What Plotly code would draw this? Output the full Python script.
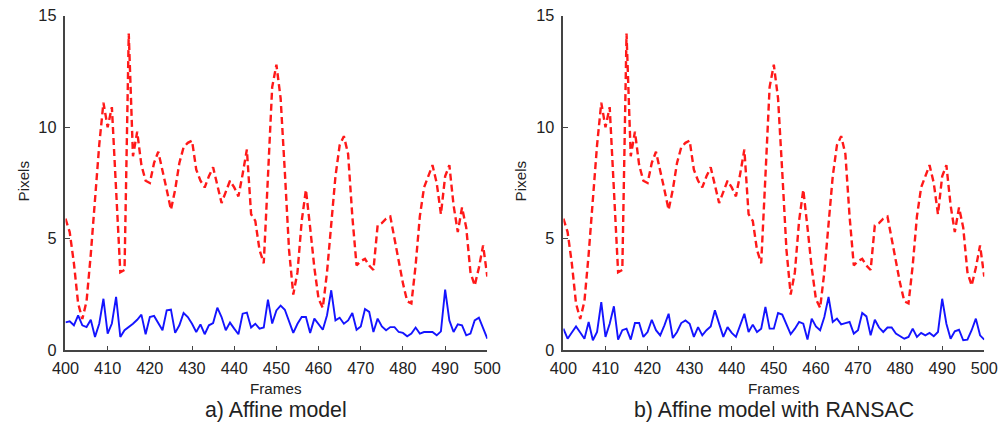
import plotly.graph_objects as go

frames = list(range(400, 501))

# Red dashed series (same in both panels)
red_err = [5.9, 5.3, 3.9, 2.1, 1.4, 2.2, 4.3, 6.8, 9.2, 11.1,
           10.0, 10.9, 7.3, 3.5, 3.6, 14.2, 8.7, 9.8, 8.3, 7.6,
           7.5, 8.4, 8.9, 8.1, 7.2, 6.3, 7.2, 8.4, 9.1, 9.3,
           9.4, 8.1, 7.6, 7.3, 7.8, 8.2, 7.4, 6.6, 7.1, 7.6,
           7.3, 6.9, 7.9, 9.0, 6.1, 5.8, 4.5, 3.9, 7.8, 11.8,
           12.8, 11.3, 8.0, 4.5, 2.5, 3.5, 5.8, 7.2, 5.5, 3.7,
           2.3, 1.9, 3.5, 5.6, 7.8, 9.2, 9.6, 8.8, 6.0, 3.8,
           4.0, 4.1, 3.8, 3.6, 5.6, 5.7, 5.9, 6.0, 5.0, 4.0,
           3.0, 2.2, 2.1, 3.8, 6.0, 7.3, 7.8, 8.3, 7.5, 6.1,
           7.8, 8.3, 6.5, 5.3, 6.4, 5.5, 3.5, 2.9, 3.7, 4.7,
           3.3]

# Blue series, panel a) Affine model
blue_affine = [1.25, 1.3, 1.12, 1.57, 1.12, 1.04, 1.37, 0.6, 1.19, 2.31,
               0.75, 1.2, 2.39, 0.6, 0.9, 1.04, 1.19, 1.37, 1.6, 0.72,
               1.49, 1.54, 1.19, 0.9, 1.79, 1.82, 0.78, 1.12, 1.67, 1.49,
               1.19, 0.82, 1.16, 0.72, 1.12, 1.22, 1.91, 1.49, 0.9, 1.24,
               0.97, 0.72, 1.64, 1.69, 1.02, 1.19, 0.97, 1.02, 2.27, 1.2,
               1.79, 2.0, 1.82, 1.34, 0.78, 1.19, 1.49, 1.49, 0.78, 1.42,
               1.19, 0.92, 1.57, 2.69, 1.34, 1.46, 1.19, 1.34, 1.67, 0.92,
               1.07, 1.85, 1.72, 0.82, 1.42, 1.07, 0.9, 1.04, 1.04, 0.82,
               0.78, 0.63, 0.75, 1.02, 0.75, 0.82, 0.82, 0.82, 0.67, 0.85,
               2.72, 1.34, 0.82, 1.16, 1.12, 0.67, 0.75, 1.34, 1.46, 0.97,
               0.52]

# Blue series, panel b) Affine model with RANSAC
blue_ransac = [0.97, 0.52, 0.8, 1.07, 0.8, 0.52, 1.27, 0.45, 0.82, 2.16,
               0.6, 1.19, 1.97, 0.48, 0.9, 0.97, 0.48, 1.22, 1.22, 0.6,
               0.82, 1.37, 0.9, 0.67, 1.12, 1.64, 0.55, 0.82, 1.22, 1.34,
               1.19, 0.6, 1.04, 0.67, 0.9, 1.07, 1.79, 1.22, 0.6, 1.04,
               0.78, 0.6, 1.12, 1.64, 0.82, 1.15, 0.82, 0.97, 1.94, 0.97,
               0.97, 1.67, 1.6, 1.12, 0.72, 0.97, 1.27, 1.19, 0.48, 1.42,
               1.07, 0.9, 1.49, 2.39, 1.27, 1.42, 1.16, 1.22, 1.27, 0.75,
               0.9, 1.67, 1.52, 0.67, 1.37, 1.02, 0.82, 1.02, 1.02, 0.75,
               0.63, 0.52, 0.6, 0.97, 0.6, 0.78, 0.67, 0.78, 0.63, 0.82,
               2.31, 1.19, 0.52, 0.85, 0.92, 0.45, 0.48, 0.9, 1.42, 0.67,
               0.48]

x_ticks = list(range(400, 501, 10))
y_ticks = [0, 5, 10, 15]
subtitles = ["a) Affine model", "b) Affine model with RANSAC"]

W, H = 1005, 427
# Empirical mapping from target screen pixels to figure pixels
SX, OX = 0.984, 7.9
SY, OY = 0.959, 8.3


def px(X):
    return ((X - OX) / SX) / W


def py(Y):
    return 1 - ((Y - OY) / SY) / H


RED = "rgb(255,25,25)"
BLUE = "rgb(20,20,255)"
TXT = "#222222"
AX = "#444444"
FAM = "Liberation Sans, Arial"

fig = go.Figure()
for i, blue in enumerate([blue_affine, blue_ransac]):
    xa = "x" if i == 0 else "x2"
    ya = "y" if i == 0 else "y2"
    fig.add_trace(go.Scatter(x=frames, y=red_err, mode="lines", xaxis=xa, yaxis=ya,
                             line=dict(color=RED, width=2.4, dash="7px,4px"),
                             showlegend=False))
    fig.add_trace(go.Scatter(x=frames, y=blue, mode="lines", xaxis=xa, yaxis=ya,
                             line=dict(color=BLUE, width=1.9),
                             showlegend=False))

ydom = [py(350), py(15)]
xdoms = [[px(60), px(487)], [px(564), px(990)]]

common_x = dict(range=[400, 500], tickvals=x_ticks, ticks="inside", ticklen=5,
                tickcolor=AX, showline=True, linecolor=AX, linewidth=1.5,
                showgrid=False, zeroline=False, ticklabeloverflow="allow",
                tickfont=dict(size=16.3, color=TXT, family=FAM), ticklabelstandoff=2)
common_y = dict(range=[0, 15], tickvals=y_ticks, ticks="inside", ticklen=5,
                tickcolor=AX, showline=True, linecolor=AX, linewidth=1.5,
                showgrid=False, zeroline=False, ticklabeloverflow="allow",
                tickfont=dict(size=16.3, color=TXT, family=FAM), ticklabelstandoff=4)

fig.update_layout(
    width=W, height=H, margin=dict(l=0, r=0, t=0, b=0),
    paper_bgcolor="white", plot_bgcolor="white",
    xaxis=dict(domain=xdoms[0], anchor="y", **common_x),
    yaxis=dict(domain=ydom, anchor="x", **common_y),
    xaxis2=dict(domain=xdoms[1], anchor="y2", **common_x),
    yaxis2=dict(domain=ydom, anchor="x2", **common_y),
)

font_axis = dict(size=15.2, color=TXT, family=FAM)
font_sub = dict(size=21.3, color=TXT, family=FAM)
centers = [273, 777]
ylab_x = [18, 521]
for i in range(2):
    fig.add_annotation(x=px(centers[i]), y=py(388), xref="paper", yref="paper",
                       text="Frames", showarrow=False, font=font_axis,
                       xanchor="center", yanchor="middle")
    fig.add_annotation(x=px(centers[i]), y=py(410), xref="paper", yref="paper",
                       text=subtitles[i], showarrow=False, font=font_sub,
                       xanchor="center", yanchor="middle")
    fig.add_annotation(x=px(ylab_x[i]), y=py(180), xref="paper", yref="paper",
                       text="Pixels", showarrow=False, font=font_axis, textangle=-90,
                       xanchor="center", yanchor="middle")

fig.write_html("out.html")
